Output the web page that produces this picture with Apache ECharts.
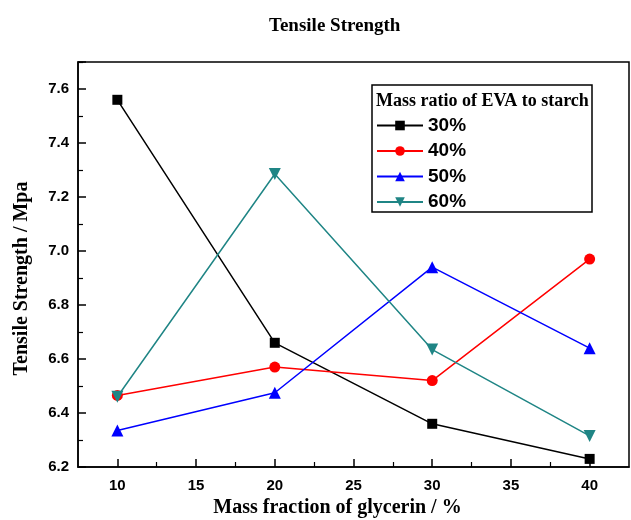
<!DOCTYPE html>
<html>
<head>
<meta charset="utf-8">
<script src="https://cdn.jsdelivr.net/npm/echarts@6/dist/echarts.min.js"></script>
<style>
  html, body { margin: 0; padding: 0; background: #fff; }
  #chart { width: 631px; height: 520px; }
</style>
</head>
<body>
<div id="chart"></div>
<script>
// 甘油质量分数 (x)
const glycerin = [10, 20, 30, 40];
// EVA/淀粉 质量比 各系列
const s30 = [7.56, 6.66, 6.36, 6.23];
const s40 = [6.465, 6.57, 6.52, 6.97];
const s50 = [6.335, 6.475, 6.94, 6.64];
const s60 = [6.46, 7.285, 6.635, 6.315];
const seriesNames = ['30%', '40%', '50%', '60%'];
// x 轴刻度
const xMajorTicks = [10, 15, 20, 25, 30, 35, 40];
const xMinorTicks = [12.5, 17.5, 22.5, 27.5, 32.5, 37.5];

const serif = 'Liberation Serif';
const sans = 'Liberation Sans';

const chart = echarts.init(document.getElementById('chart'));

function pairs(ys) {
  return glycerin.map((x, i) => [x, ys[i]]);
}

function makeSeries(name, ys, color, symbol, size, rotate) {
  return {
    name: name,
    type: 'line',
    xAxisIndex: 0,
    data: pairs(ys),
    symbol: symbol,
    symbolSize: size,
    symbolRotate: rotate || 0,
    lineStyle: { color: color, width: 1.5 },
    itemStyle: { color: color },
    emphasis: { disabled: true },
    animation: false
  };
}

const option = {
  backgroundColor: '#fff',
  title: {
    text: 'Tensile Strength',
    left: 264,
    top: 12,
    textStyle: { fontFamily: serif, fontWeight: 'bold', fontSize: 19, color: '#000' }
  },
  grid: {
    left: 78,
    right: 2,
    top: 62,
    bottom: 53,
    outerBoundsMode: 'none',
    show: true,
    borderColor: '#000',
    borderWidth: 1.5
  },
  xAxis: [
    {
      type: 'value',
      min: 7.5,
      max: 42.5,
      name: 'Mass fraction of glycerin / %',
      nameLocation: 'middle',
      nameGap: 31,
      nameMoveOverlap: false,
      nameTextStyle: {
        fontFamily: serif, fontWeight: 'bold', fontSize: 20, color: '#000',
        padding: [0, 32, 0, 0]
      },
      axisLine: { lineStyle: { color: '#000', width: 1.5 } },
      axisTick: { inside: true, length: 8, customValues: xMajorTicks, lineStyle: { color: '#000', width: 1.5 } },
      axisLabel: {
        customValues: xMajorTicks,
        margin: 11,
        fontFamily: sans, fontWeight: 'bold', fontSize: 15, color: '#000'
      },
      splitLine: { show: false }
    },
    {
      // 次刻度
      type: 'value',
      position: 'bottom',
      min: 7.5,
      max: 42.5,
      axisLine: { show: false },
      axisTick: { show: true, inside: true, length: 5, customValues: xMinorTicks, lineStyle: { color: '#000', width: 1.2 } },
      axisLabel: { show: false },
      splitLine: { show: false }
    }
  ],
  yAxis: {
    type: 'value',
    min: 6.2,
    max: 7.7,
    interval: 0.2,
    name: 'Tensile Strength / Mpa',
    nameLocation: 'middle',
    nameGap: 46,
    nameMoveOverlap: false,
    nameTextStyle: {
      fontFamily: serif, fontWeight: 'bold', fontSize: 20, color: '#000',
      padding: [0, 28, 0, 0]
    },
    axisLine: { show: true, lineStyle: { color: '#000', width: 1.5 } },
    axisTick: { show: true, inside: true, length: 8, lineStyle: { color: '#000', width: 1.5 } },
    minorTick: { show: true, splitNumber: 2, length: 5, lineStyle: { color: '#000', width: 1.2 } },
    axisLabel: {
      showMaxLabel: false,
      margin: 9,
      formatter: v => v.toFixed(1),
      fontFamily: sans, fontWeight: 'bold', fontSize: 15, color: '#000'
    },
    splitLine: { show: false }
  },
  legend: {
    orient: 'vertical',
    left: 376,
    top: 116,
    itemWidth: 46,
    itemHeight: 12,
    itemGap: 6.5,
    padding: 0,
    z: 10,
    data: seriesNames,
    textStyle: { fontFamily: sans, fontWeight: 'bold', fontSize: 19, color: '#000', lineHeight: 19 }
  },
  graphic: [
    {
      type: 'rect',
      shape: { x: 372, y: 85, width: 220, height: 127 },
      style: { fill: '#fff', stroke: '#000', lineWidth: 1.5 },
      z: 5
    },
    {
      type: 'text',
      x: 376,
      y: 92,
      style: {
        text: 'Mass ratio of EVA to starch',
        font: 'bold 18px "Liberation Serif"',
        fill: '#000'
      },
      z: 6
    }
  ],
  series: [
    makeSeries(seriesNames[0], s30, '#000000', 'rect', 10),
    makeSeries(seriesNames[1], s40, '#ff0000', 'circle', 11),
    makeSeries(seriesNames[2], s50, '#0000ff', 'triangle', 12),
    makeSeries(seriesNames[3], s60, '#1f8585', 'triangle', 12, 180)
  ]
};

chart.setOption(option);
</script>
</body>
</html>
